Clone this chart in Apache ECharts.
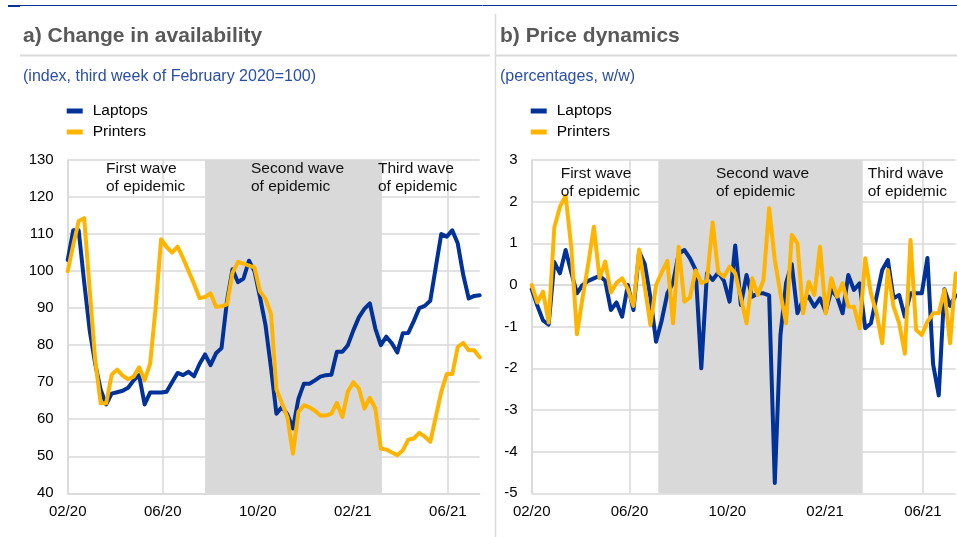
<!DOCTYPE html>
<html>
<head>
<meta charset="utf-8">
<script src="https://cdn.jsdelivr.net/npm/echarts@6/dist/echarts.min.js"></script>
<style>
  html, body { margin: 0; padding: 0; background: #fff; }
  #chart { width: 957px; height: 537px; }
</style>
</head>
<body>
<div id="chart"></div>
<script>
// tick labels on the week axis (one tick every ~17.3 weeks, i.e. 4 months)
var xLabels = ['02/20', '06/20', '10/20', '02/21', '06/21'];
var seriesNames = ['Laptops', 'Printers'];

// a) availability index, weekly, third week of Feb 2020 = 100
var availLaptops = [103, 111, 111, 97, 84, 75, 68, 64, 66.9, 67.3, 67.7, 68.5, 70.5, 71.9, 64, 67.2,
  67.2, 67.2, 67.4, 70, 72.5, 71.9, 72.8, 71.6, 74.9, 77.5, 74.6, 77.8, 79.2, 92, 100.5, 97, 98, 102.8,
  100, 93, 85.5, 74, 61.5, 63.3, 61.3, 57.5, 65.5, 69.6, 69.6, 70.5, 71.5, 71.9, 72, 78.2, 78.2, 80, 84,
  87.5, 89.8, 91.3, 84.5, 80, 82.3, 80.5, 78, 83.2, 83.3, 86.5, 90, 90.6, 92, 101, 110, 109.3, 111,
  107.5, 99, 92.6, 93.3, 93.5];
var availPrinters = [100, 107, 113.5, 114.3, 95, 76, 64.3, 64.3, 72, 73.4, 71.8, 70.8, 71.5, 74, 70.5, 75,
  90, 108.6, 106.5, 105, 106.6, 103.5, 100, 96.5, 92.7, 93, 94, 90.4, 90.5, 91, 99.5, 102.5, 102, 101.5,
  101, 94.5, 92.5, 88.5, 68, 64.3, 60.5, 50.7, 62, 63.8, 63.2, 62.3, 61, 61, 61.5, 64.4, 60.6, 67.5, 70,
  68.3, 62.9, 65.8, 62.9, 52.1, 51.8, 51, 50.3, 51.6, 54.5, 54.8, 56.3, 55.3, 53.9, 60.6, 67.4, 72.2,
  72.2, 79.5, 80.6, 78.6, 78.6, 76.7];

// b) price change, percentages w/w
var priceLaptops = [-0.1, -0.5, -0.85, -0.95, 0.55, 0.28, 0.84, 0.3, -0.2, 0, 0.1, 0.16, 0.22, 0.1, -0.6,
  -0.42, -0.76, 0, -0.6, 0.8, 0.5, -0.3, -1.36, -0.85, -0.2, 0.05, 0.75, 0.84, 0.64, 0.36, -2.0, 0.28,
  0.12, 0.3, 0.1, -0.4, 0.95, -0.48, 0.24, -0.28, -0.2, -0.2, -0.25, -4.75, -1.2, 0.05, 0.5, -0.68,
  -0.36, -0.28, -0.52, -0.32, -0.64, -0.12, -0.28, -0.68, 0.24, -0.12, 0.04, -1.04, -0.92, -0.28, 0.36,
  0.6, -0.32, -0.24, -0.76, -0.2, -0.2, -0.2, 0.65, -1.9, -2.65, -0.1, -0.5, -0.25];
var pricePrinters = [0, -0.42, -0.16, -0.9, 1.38, 1.88, 2.14, 0.9, -1.18, -0.3, 0.5, 1.4, 0.16, 0.56,
  -0.18, 0.05, 0.16, -0.1, -0.5, 0.85, -0.05, -0.96, 0, 0.3, 0.58, -0.92, 0.92, -0.4, -0.3, 0.35, 0.05,
  0.1, 1.5, 0.3, 0.2, 0.44, 0.28, -0.3, -0.92, 0.16, -0.24, 0.12, 1.84, 0.6, -0.2, -0.92, 1.2, 1.0,
  -0.68, 0.08, -0.24, 0.92, -0.68, 0.16, -0.28, 0.04, -0.52, -0.52, -1.04, 0.64, -0.2, -0.68, -1.4,
  0.36, -0.52, -0.92, -1.65, 1.08, -1.08, -1.2, -0.88, -0.68, -0.68, -0.12, -1.4, 0.28];

// epidemic waves shaded (in weeks since the first observation)
var shadeA = [25.0, 57.2];
var shadeB = [22.4, 58.55];

var FONT = 'Arial, "Liberation Sans", sans-serif';
var BLUE = '#003299', YELLOW = '#ffb400', GRID = '#d9d9d9';
var STEP = 17.3;

function pairs(arr) {
  return arr.map(function (v, i) { return [i, v]; });
}

function xAxisCfg(idx) {
  return {
    type: 'value', gridIndex: idx, min: 0, max: 75, interval: STEP,
    axisLine: { show: true, lineStyle: { color: GRID, width: 1.5 } },
    axisTick: { show: false },
    splitLine: { show: true, showMaxLine: false, lineStyle: { color: GRID, width: 1.5 } },
    axisLabel: {
      color: '#000', fontSize: 15, fontFamily: FONT, margin: 11,
      showMaxLabel: false,
      formatter: function (v) {
        var k = Math.round(v / STEP);
        return Math.abs(v - k * STEP) < 0.01 && xLabels[k] ? xLabels[k] : '';
      }
    }
  };
}

function yAxisCfg(idx, min, max) {
  return {
    type: 'value', gridIndex: idx, min: min, max: max, interval: idx === 0 ? 10 : 1,
    axisLine: { show: true, lineStyle: { color: GRID, width: 1.5 } },
    axisTick: { show: false },
    splitLine: { show: true, lineStyle: { color: GRID, width: 1.5 } },
    axisLabel: { color: '#000', fontSize: 15, fontFamily: FONT, margin: 14 }
  };
}

function lineSeries(name, data, color, idx) {
  return {
    name: name, type: 'line', xAxisIndex: idx, yAxisIndex: idx,
    data: pairs(data), showSymbol: false, symbol: 'none', z: 3,
    lineStyle: { color: color, width: 4, cap: 'round', join: 'round' },
    itemStyle: { color: color }
  };
}

function shadeSeries(idx, range) {
  return {
    name: 'shade' + idx, type: 'line', xAxisIndex: idx, yAxisIndex: idx, data: [],
    silent: true, z: 1,
    markArea: {
      silent: true,
      itemStyle: { color: GRID, opacity: 1 },
      data: [[{ xAxis: range[0] }, { xAxis: range[1] }]]
    }
  };
}

function legendCfg(left) {
  return {
    left: left, top: 103, padding: 0, orient: 'vertical', icon: 'rect',
    itemWidth: 16, itemHeight: 5, itemGap: 5,
    textStyle: { color: '#000', fontSize: 15.5, fontFamily: FONT, padding: [0, 0, 0, 5] },
    data: seriesNames
  };
}

function label(x, y, text) {
  return {
    type: 'text', z: 10, silent: true,
    style: { x: x, y: y, text: text, fill: '#111', font: '15.5px ' + FONT, lineHeight: 17.7, verticalAlign: 'top' }
  };
}

var chart = echarts.init(document.getElementById('chart'));
chart.setOption({
  animation: false,
  backgroundColor: '#fff',
  grid: [
    { left: 67.7, top: 160, width: 412, height: 333.3 },
    { left: 531.7, top: 160, width: 424, height: 333.3 }
  ],
  xAxis: [xAxisCfg(0), xAxisCfg(1)],
  yAxis: [yAxisCfg(0, 40, 130), yAxisCfg(1, -5, 3)],
  legend: [legendCfg(66.7), legendCfg(530.7)],
  series: [
    shadeSeries(0, shadeA),
    shadeSeries(1, shadeB),
    lineSeries(seriesNames[0], availLaptops, BLUE, 0),
    lineSeries(seriesNames[1], availPrinters, YELLOW, 0),
    lineSeries(seriesNames[0], priceLaptops, BLUE, 1),
    lineSeries(seriesNames[1], pricePrinters, YELLOW, 1)
  ],
  graphic: [
    { type: 'line', silent: true, shape: { x1: 8, y1: 5.5, x2: 957, y2: 5.5 }, style: { stroke: BLUE, lineWidth: 1 } },
    { type: 'rect', silent: true, shape: { x: 8, y: 5, width: 12, height: 2 }, style: { fill: BLUE } },
    { type: 'line', silent: true, shape: { x1: 20, y1: 55.5, x2: 490, y2: 55.5 }, style: { stroke: GRID, lineWidth: 2 } },
    { type: 'line', silent: true, shape: { x1: 495, y1: 55.5, x2: 957, y2: 55.5 }, style: { stroke: GRID, lineWidth: 2 } },
    { type: 'line', silent: true, shape: { x1: 495.5, y1: 14, x2: 495.5, y2: 537 }, style: { stroke: GRID, lineWidth: 1.5 } },
    { type: 'text', silent: true, style: { x: 23, y: 36, text: 'a) Change in availability', fill: '#595959', font: 'bold 21px ' + FONT, verticalAlign: 'middle' } },
    { type: 'text', silent: true, style: { x: 500, y: 36, text: 'b) Price dynamics', fill: '#595959', font: 'bold 21px ' + FONT, verticalAlign: 'middle' } },
    { type: 'text', silent: true, style: { x: 23, y: 77, text: '(index, third week of February 2020=100)', fill: '#2a4fa5', font: '16px ' + FONT, verticalAlign: 'middle' } },
    { type: 'text', silent: true, style: { x: 500, y: 77, text: '(percentages, w/w)', fill: '#2a4fa5', font: '16px ' + FONT, verticalAlign: 'middle' } },
    label(106, 160, 'First wave\nof epidemic'),
    label(251, 160, 'Second wave\nof epidemic'),
    label(378, 160, 'Third wave\nof epidemic'),
    label(560.7, 165, 'First wave\nof epidemic'),
    label(716, 165, 'Second wave\nof epidemic'),
    label(867.7, 165, 'Third wave\nof epidemic')
  ]
});
</script>
</body>
</html>
